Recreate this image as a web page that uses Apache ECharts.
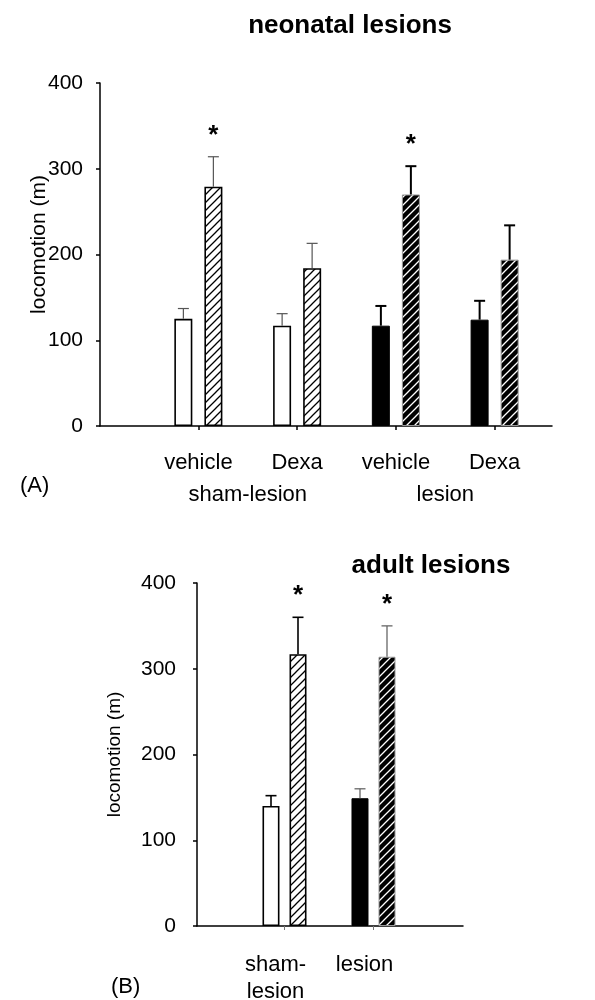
<!DOCTYPE html>
<html>
<head>
<meta charset="utf-8">
<title>locomotion</title>
<script src="https://cdn.jsdelivr.net/npm/echarts/dist/echarts.min.js"></script>
<style>
  html, body { margin: 0; padding: 0; background: #fff; }
  #chart { width: 595px; height: 1000px; }
</style>
</head>
<body>
<div id="chart"></div>
<script>
// (A) neonatal lesions
const topCategories = ['vehicle', 'Dexa', 'vehicle', 'Dexa'];
const topGroups = ['sham-lesion', 'lesion'];
const topGroupOf = [0, 0, 1, 1];          // 0 = sham, 1 = lesion
const topPlain = [125, 117, 117, 124];
const topPlainSem = [12, 14, 23, 22];
const topHatched = [279, 184, 270, 194];
const topHatchedSem = [35, 29, 33, 40];
const topHatchedSig = [true, false, true, false];

// (B) adult lesions
const adultCategories = ['sham-\nlesion', 'lesion'];
const adultGroupOf = [0, 1];
const adultPlain = [140, 149];
const adultPlainSem = [12, 11];
const adultHatched = [317, 314];
const adultHatchedSem = [43, 36];
const adultHatchedSig = [true, true];

const yMin = 0, yMax = 400, yStep = 100;

const FONT = '"Liberation Sans", Arial, Helvetica, sans-serif';

function hatch(bg, fg, lw) {
    const c = document.createElement('canvas');
    c.width = 8; c.height = 8;
    const ctx = c.getContext('2d');
    ctx.fillStyle = bg;
    ctx.fillRect(0, 0, 8, 8);
    ctx.strokeStyle = fg;
    ctx.lineWidth = lw;
    ctx.beginPath();
    ctx.moveTo(-1, 9); ctx.lineTo(9, -1);
    ctx.moveTo(-1, 1); ctx.lineTo(1, -1);
    ctx.moveTo(7, 9); ctx.lineTo(9, 7);
    ctx.stroke();
    return { image: c, repeat: 'repeat' };
}

const whiteHatch = hatch('#fff', '#000', 1.3);
const blackHatch = hatch('#000', '#fff', 1.3);

function plainItems(values, groupOf) {
    return values.map((v, i) => ({
        value: v,
        itemStyle: groupOf[i] === 0
            ? { color: '#fff', borderColor: '#000', borderWidth: 1.6 }
            : { color: '#000', borderColor: '#000', borderWidth: 1 }
    }));
}

function hatchedItems(values, groupOf) {
    return values.map((v, i) => ({
        value: v,
        itemStyle: groupOf[i] === 0
            ? { color: whiteHatch, borderColor: '#000', borderWidth: 1.6 }
            : { color: blackHatch, borderColor: '#999', borderWidth: 1 }
    }));
}

// error bar rows: [category, mean, sem, slot (0 plain / 1 hatched), star]
function errRows(plain, plainSem, hatched, hatchedSem, sig) {
    const rows = [];
    plain.forEach((v, i) => rows.push([i, v, plainSem[i], 0, 0]));
    hatched.forEach((v, i) => rows.push([i, v, hatchedSem[i], 1, sig[i] ? 1 : 0]));
    return rows;
}

function errorSeries(rows, xIdx, yIdx, half, colorFor) {
    return {
        type: 'custom',
        xAxisIndex: xIdx,
        yAxisIndex: yIdx,
        z: 3,
        data: rows,
        renderItem: function (params, api) {
            const cat = api.value(0);
            const mean = api.value(1);
            const sem = api.value(2);
            const slot = api.value(3);
            const base = api.coord([cat, mean]);
            const top = api.coord([cat, mean + sem]);
            const x = base[0] + (slot ? half : -half);
            const st = colorFor(cat);
            const kids = [
                { type: 'line', shape: { x1: x, y1: base[1], x2: x, y2: top[1] },
                  style: { stroke: st.color, lineWidth: st.width } },
                { type: 'line', shape: { x1: x - 5.5, y1: top[1], x2: x + 5.5, y2: top[1] },
                  style: { stroke: st.color, lineWidth: st.width } }
            ];
            if (api.value(4)) {
                kids.push({
                    type: 'text',
                    style: {
                        text: '*', x: x, y: top[1] - 21,
                        align: 'center', verticalAlign: 'middle',
                        font: 'bold 26px ' + FONT, fill: '#000'
                    }
                });
            }
            return { type: 'group', children: kids };
        }
    };
}

const tickLabel = { color: '#000', fontSize: 21, fontFamily: FONT };
const catLabel = { color: '#000', fontSize: 22, fontFamily: FONT };
const axisBlack = { show: true, lineStyle: { color: '#000', width: 1.5 } };

const chart = echarts.init(document.getElementById('chart'), null, { renderer: 'canvas' });

chart.setOption({
    animation: false,
    backgroundColor: '#fff',
    title: [
        { text: 'neonatal lesions', left: 345, top: 8, textAlign: 'center',
          textStyle: { fontSize: 26, fontWeight: 'bold', fontFamily: FONT, color: '#000' } },
        { text: 'adult lesions', left: 426, top: 548, textAlign: 'center',
          textStyle: { fontSize: 26, fontWeight: 'bold', fontFamily: FONT, color: '#000' } },
        { text: '(A)', left: 15, top: 470,
          textStyle: { fontSize: 22, fontWeight: 'normal', fontFamily: FONT, color: '#000' } },
        { text: '(B)', left: 106, top: 971,
          textStyle: { fontSize: 22, fontWeight: 'normal', fontFamily: FONT, color: '#000' } }
    ],
    grid: [
        { left: 149, top: 83, width: 395, height: 343, outerBoundsMode: 'none' },
        { left: 100, top: 83, width: 452, height: 343, outerBoundsMode: 'none' },
        { left: 240, top: 583, width: 178, height: 343, outerBoundsMode: 'none' },
        { left: 197, top: 583, width: 266, height: 343, outerBoundsMode: 'none' }
    ],
    xAxis: [
        { type: 'category', gridIndex: 0, data: topCategories, position: 'bottom',
          axisLine: { show: false },
          axisTick: { show: true, alignWithLabel: true, length: 4, lineStyle: { color: '#000', width: 1.5 } },
          axisLabel: Object.assign({ margin: 26, interval: 0 }, catLabel) },
        { type: 'category', gridIndex: 0, data: topGroups, position: 'bottom',
          axisLine: { show: false }, axisTick: { show: false },
          axisLabel: Object.assign({ margin: 58, interval: 0 }, catLabel) },
        { type: 'value', gridIndex: 1, min: 0, max: 1,
          axisLine: axisBlack, axisTick: { show: false }, axisLabel: { show: false },
          splitLine: { show: false } },
        { type: 'category', gridIndex: 2, data: adultCategories, position: 'bottom',
          axisLine: { show: false },
          axisTick: { show: true, alignWithLabel: true, length: 4, lineStyle: { color: '#777', width: 1 } },
          axisLabel: Object.assign({ margin: 25, interval: 0, lineHeight: 27, padding: [0, 18, 0, 0] }, catLabel) },
        { type: 'value', gridIndex: 3, min: 0, max: 1,
          axisLine: axisBlack, axisTick: { show: false }, axisLabel: { show: false },
          splitLine: { show: false } }
    ],
    yAxis: [
        { type: 'value', gridIndex: 0, min: yMin, max: yMax, interval: yStep, offset: 49,
          name: 'locomotion (m)', nameLocation: 'middle', nameGap: 50, nameMoveOverlap: false,
          nameTextStyle: { color: '#000', fontSize: 21, fontFamily: FONT, padding: [0, 0, 0, 20] },
          axisLine: axisBlack,
          axisTick: { show: true, length: 4, lineStyle: { color: '#000', width: 1.5 } },
          axisLabel: Object.assign({ margin: 17 }, tickLabel),
          splitLine: { show: false } },
        { type: 'value', gridIndex: 1, show: false },
        { type: 'value', gridIndex: 2, min: yMin, max: yMax, interval: yStep, offset: 43,
          name: 'locomotion (m)', nameLocation: 'middle', nameGap: 73, nameMoveOverlap: false,
          nameTextStyle: { color: '#000', fontSize: 19, fontFamily: FONT },
          axisLine: axisBlack,
          axisTick: { show: true, length: 4, lineStyle: { color: '#000', width: 1.5 } },
          axisLabel: Object.assign({ margin: 21 }, tickLabel),
          splitLine: { show: false } },
        { type: 'value', gridIndex: 3, show: false }
    ],
    series: [
        { type: 'bar', xAxisIndex: 0, yAxisIndex: 0, barWidth: 18, barGap: '67%',
          data: plainItems(topPlain, topGroupOf) },
        { type: 'bar', xAxisIndex: 0, yAxisIndex: 0, barWidth: 18, barGap: '67%',
          data: hatchedItems(topHatched, topGroupOf) },
        errorSeries(errRows(topPlain, topPlainSem, topHatched, topHatchedSem, topHatchedSig), 0, 0, 15,
            cat => topGroupOf[cat] === 0 ? { color: '#555', width: 1.2 } : { color: '#000', width: 2 }),

        { type: 'bar', xAxisIndex: 3, yAxisIndex: 2, barWidth: 17, barGap: '59%',
          data: plainItems(adultPlain, adultGroupOf) },
        { type: 'bar', xAxisIndex: 3, yAxisIndex: 2, barWidth: 17, barGap: '59%',
          data: hatchedItems(adultHatched, adultGroupOf) },
        errorSeries(errRows(adultPlain, adultPlainSem, adultHatched, adultHatchedSem, adultHatchedSig), 3, 2, 13.5,
            cat => adultGroupOf[cat] === 0 ? { color: '#000', width: 1.6 } : { color: '#666', width: 1.3 })
    ]
});
</script>
</body>
</html>
